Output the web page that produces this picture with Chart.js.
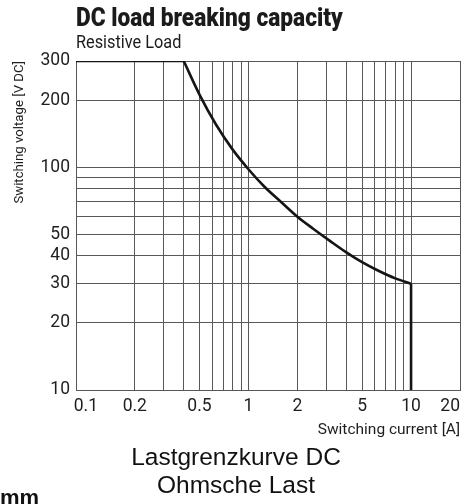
<!DOCTYPE html>
<html>
<head>
<meta charset="utf-8">
<script src="https://cdn.jsdelivr.net/npm/chart.js@4.4.1/dist/chart.umd.min.js"></script>
<style>
  html, body { margin: 0; padding: 0; background: #fff; }
  #wrap { position: relative; width: 466px; height: 504px; overflow: hidden; }
  #chart { position: absolute; left: 0; top: 0; }
  .txt { position: absolute; white-space: nowrap; color: #1b1b1b; transform-origin: 0 0; }
  #title { left: 76px; top: 5px; font: 900 25.5px/1 Roboto, 'Liberation Sans', sans-serif; }
  #subtitle { left: 76px; top: 33px; font: 18px/1 Roboto, 'Liberation Sans', sans-serif; }
  #caption { left: 0; top: 443px; width: 472px; text-align: center; font: 24.5px/28px 'Liberation Sans', Arial, sans-serif; color: #111; }
  #corner { left: 0; top: 487px; font: bold 22px/1 'Liberation Sans', Arial, sans-serif; color: #111; }
</style>
</head>
<body>
<div id="wrap">
  <canvas id="chart" width="466" height="445"></canvas>
  <div class="txt" id="title" data-w="267">DC load breaking capacity</div>
  <div class="txt" id="subtitle" data-w="105">Resistive Load</div>
  <div class="txt" id="caption">Lastgrenzkurve DC<br>Ohmsche Last</div>
  <div class="txt" id="corner">mm</div>
</div>
<script>
const X_MIN = 0.087;
const X_MAX = 20;
const Y_MIN = 10;
const Y_MAX = 300;

// axis ticks and grid lines
const xLabelValues = [0.1, 0.2, 0.5, 1, 2, 5, 10, 20];
const xGridValues = [0.2, 0.3, 0.4, 0.5, 0.6, 0.7, 0.8, 0.9, 1, 2, 3, 4, 5, 6, 7, 8, 9, 10, 20];
const yLabelValues = [10, 20, 30, 40, 50, 100, 200, 300];
const yGridValues = [20, 30, 40, 50, 60, 70, 80, 90, 100, 200, 300];

// limit curve: flat part, curved part, vertical drop at 10 A
const flatCurrent = [X_MIN, 0.4];
const flatVoltage = [300, 300];
const curveCurrent = [0.4, 0.5, 0.63, 0.8, 1, 1.25, 1.6, 2, 2.5, 3.2, 4, 5, 6.3, 8, 10];
const curveVoltage = [300, 212, 156, 120, 98, 82, 69.5, 60, 53, 46.5, 41.5, 37.5, 34.3, 31.7, 30];
const dropCurrent = [10, 10];
const dropVoltage = [30, 10];

const GRID = '#585858';
const INK = '#151515';
const FONT = "Roboto, 'Liberation Sans', sans-serif";

// squeeze the condensed headline texts to their measured widths
document.querySelectorAll('[data-w]').forEach(el => {
  el.style.transform = 'scaleX(' + (el.dataset.w / el.offsetWidth) + ')';
});

const pts = (xs, ys) => xs.map((x, i) => ({ x, y: ys[i] }));
const uniq = arr => [...new Set(arr)].sort((a, b) => a - b);

const lineStyle = { borderColor: INK, borderWidth: 2.6, pointRadius: 0, fill: false };

new Chart(document.getElementById('chart'), {
  type: 'line',
  data: {
    datasets: [
      { ...lineStyle, data: pts(flatCurrent, flatVoltage) },
      { ...lineStyle, data: pts(curveCurrent, curveVoltage), cubicInterpolationMode: 'monotone' },
      { ...lineStyle, data: pts(dropCurrent, dropVoltage) }
    ]
  },
  options: {
    responsive: false,
    animation: false,
    layout: { padding: { left: 0, top: 61, right: 5, bottom: 0 } },
    plugins: { legend: { display: false }, tooltip: { enabled: false } },
    scales: {
      x: {
        type: 'logarithmic',
        min: X_MIN,
        max: X_MAX,
        afterBuildTicks: s => { s.ticks = uniq([X_MIN, ...xLabelValues, ...xGridValues]).map(v => ({ value: v })); },
        afterFit: s => { s.height = 55; },
        grid: {
          drawTicks: false,
          lineWidth: 1,
          color: c => (c.tick && xGridValues.includes(c.tick.value)) ? GRID : 'rgba(0,0,0,0)'
        },
        border: { display: true, color: GRID, width: 1 },
        ticks: {
          autoSkip: false, maxRotation: 0, minRotation: 0, align: 'inner', padding: 6,
          color: '#1e1e1e', font: { family: FONT, size: 17.5 },
          callback: v => xLabelValues.includes(v) ? String(v) : ''
        },
        title: {
          display: true, text: 'Switching current [A]', align: 'end',
          color: '#1e1e1e', font: { family: FONT, size: 15.5 }, padding: { top: 0, bottom: 6 }
        }
      },
      y: {
        type: 'logarithmic',
        min: Y_MIN,
        max: Y_MAX,
        afterBuildTicks: s => { s.ticks = uniq([...yLabelValues, ...yGridValues]).map(v => ({ value: v })); },
        afterFit: s => { s.width = 76; },
        grid: {
          drawTicks: false,
          lineWidth: 1,
          color: c => (c.tick && yGridValues.includes(c.tick.value)) ? GRID : 'rgba(0,0,0,0)'
        },
        border: { display: true, color: GRID, width: 1 },
        ticks: {
          autoSkip: false, padding: 6,
          color: '#1e1e1e', font: { family: FONT, size: 17.5 },
          callback: v => yLabelValues.includes(v) ? String(v) : ''
        },
        title: {
          display: true, text: 'Switching voltage [V DC]', align: 'end',
          color: '#1e1e1e', font: { family: FONT, size: 13.2 }, padding: { top: 12, bottom: 0 }
        }
      }
    }
  }
});
</script>
</body>
</html>
